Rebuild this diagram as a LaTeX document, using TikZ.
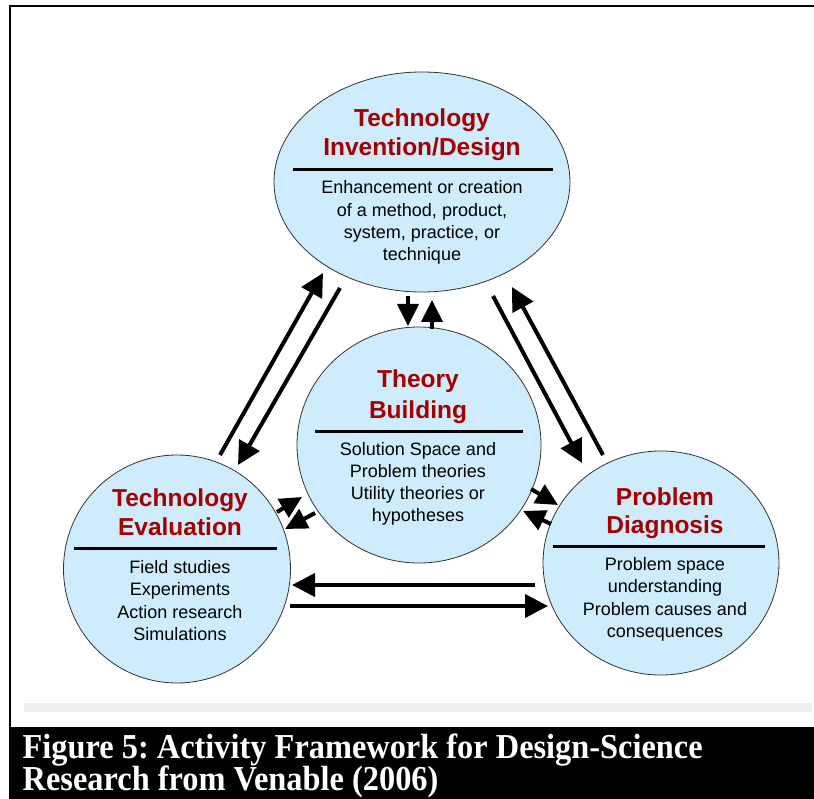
\documentclass[tikz,border=0pt]{standalone}
\usepackage{fontspec}
\setmainfont{Liberation Serif}
\newfontfamily\diagsans{Liberation Sans}
\usetikzlibrary{shapes.geometric,arrows.meta}
\definecolor{bubblefill}{HTML}{CEECFB}
\definecolor{titlered}{HTML}{A30000}
\definecolor{bargray}{HTML}{EEEEEE}
\frenchspacing
\begin{document}
\begin{tikzpicture}[x=1pt,y=-1pt,
  bubblenode/.style={ellipse, draw=black!80, line width=0.8pt, fill=bubblefill, inner sep=0pt, outer sep=0pt},
  ttl/.style={anchor=base, text=titlered, font=\diagsans\bfseries\fontsize{24.5}{30}\selectfont, inner sep=0pt},
  bdy/.style={anchor=base, text=black, font=\diagsans\fontsize{18}{22}\selectfont, inner sep=0pt},
  divider/.style={line width=3pt},
  flow/.style={line width=4pt, -{Triangle[length=23pt,width=23pt]}},
  shortflow/.style={line width=4pt, -{Triangle[length=22pt,width=21pt]}},
  captxt/.style={anchor=base west, text=white, font=\bfseries\fontsize{35}{32}\selectfont, inner sep=0pt},
]
\useasboundingbox (0,0) rectangle (814,799);
\fill[white] (0,0) rectangle (814,799);
% frame
\draw[line width=2.5pt] (8.75,6) -- (814,6);
\draw[line width=2.5pt] (10,5) -- (10,727);
\fill[bargray] (24,703) rectangle (812,712);
\fill[black] (9,727) rectangle (814,799);
\node[captxt] (cap1) at (22.5,758) {\scalebox{0.925}[1]{Figure 5: Activity Framework for Design-Science}};
\node[captxt] (cap2) at (22.5,790) {\scalebox{0.925}[1]{Research from Venable (2006)}};

% bubbles
\node[bubblenode, minimum width=296pt, minimum height=220pt] (tid) at (422,182) {};
\node[bubblenode, minimum width=244pt, minimum height=236pt] (tb) at (419,445) {};
\node[bubblenode, minimum width=227pt, minimum height=228pt] (te) at (177,569) {};
\node[bubblenode, minimum width=236pt, minimum height=224pt] (pd) at (661,563) {};

% Technology Invention/Design
\node[ttl] (tidt1) at (422,126.5) {Technology};
\node[ttl] (tidt2) at (422,156) {Invention/Design};
\draw[divider] (293,170) -- (553,170);
\node[bdy] (tidb1) at (422,194) {Enhancement or creation};
\node[bdy] (tidb2) at (422,216.5) {of a method, product,};
\node[bdy] (tidb3) at (422,239) {system, practice, or};
\node[bdy] (tidb4) at (422,261) {technique};

% Theory Building
\node[ttl] (tbt1) at (418,388) {Theory};
\node[ttl] (tbt2) at (418,418) {Building};
\draw[divider] (315,432) -- (523,432);
\node[bdy] (tbb1) at (418,455) {Solution Space and};
\node[bdy] (tbb2) at (418,477) {Problem theories};
\node[bdy] (tbb3) at (418,499) {Utility theories or};
\node[bdy] (tbb4) at (418,521) {hypotheses};

% Technology Evaluation
\node[ttl] (tet1) at (180,506) {Technology};
\node[ttl] (tet2) at (180,535) {Evaluation};
\draw[divider] (74,548) -- (277,548);
\node[bdy] (teb1) at (180,573) {Field studies};
\node[bdy] (teb2) at (180,595.5) {Experiments};
\node[bdy] (teb3) at (180,618) {Action research};
\node[bdy] (teb4) at (180,640.5) {Simulations};

% Problem Diagnosis
\node[ttl] (pdt1) at (665,505) {Problem};
\node[ttl] (pdt2) at (665,533.5) {Diagnosis};
\draw[divider] (553,546) -- (765,546);
\node[bdy] (pdb1) at (665,570) {Problem space};
\node[bdy] (pdb2) at (665,592.5) {understanding};
\node[bdy] (pdb3) at (665,615) {Problem causes and};
\node[bdy] (pdb4) at (665,637.5) {consequences};

% arrow end points
\coordinate (a1s) at (220,455); \coordinate (a1e) at (323,273);
\coordinate (a2s) at (340,288); \coordinate (a2e) at (238,465);
\coordinate (a3s) at (493,296); \coordinate (a3e) at (582,463);
\coordinate (a4s) at (603,455); \coordinate (a4e) at (512,287);
\coordinate (a5s) at (535,585); \coordinate (a5e) at (292,585);
\coordinate (a6s) at (290,606); \coordinate (a6e) at (548,606);
\coordinate (a7s) at (408,296); \coordinate (a7e) at (408,326);
\coordinate (a8s) at (432,329); \coordinate (a8e) at (432,300);
\coordinate (a9s) at (277,512); \coordinate (a9e) at (302,497);
\coordinate (a10s) at (315,513); \coordinate (a10e) at (285,529);
\coordinate (a11s) at (531,489); \coordinate (a11e) at (558,505);
\coordinate (a12s) at (551,524); \coordinate (a12e) at (523,511);

\draw[flow] (a1s) -- (a1e);
\draw[flow] (a2s) -- (a2e);
\draw[flow] (a3s) -- (a3e);
\draw[flow] (a4s) -- (a4e);
\draw[flow] (a5s) -- (a5e);
\draw[flow] (a6s) -- (a6e);
\draw[shortflow] (a7s) -- (a7e);
\draw[shortflow] (a8s) -- (a8e);
\draw[shortflow] (a9s) -- (a9e);
\draw[shortflow] (a10s) -- (a10e);
\draw[shortflow] (a11s) -- (a11e);
\draw[shortflow] (a12s) -- (a12e);
\end{tikzpicture}
\end{document}
